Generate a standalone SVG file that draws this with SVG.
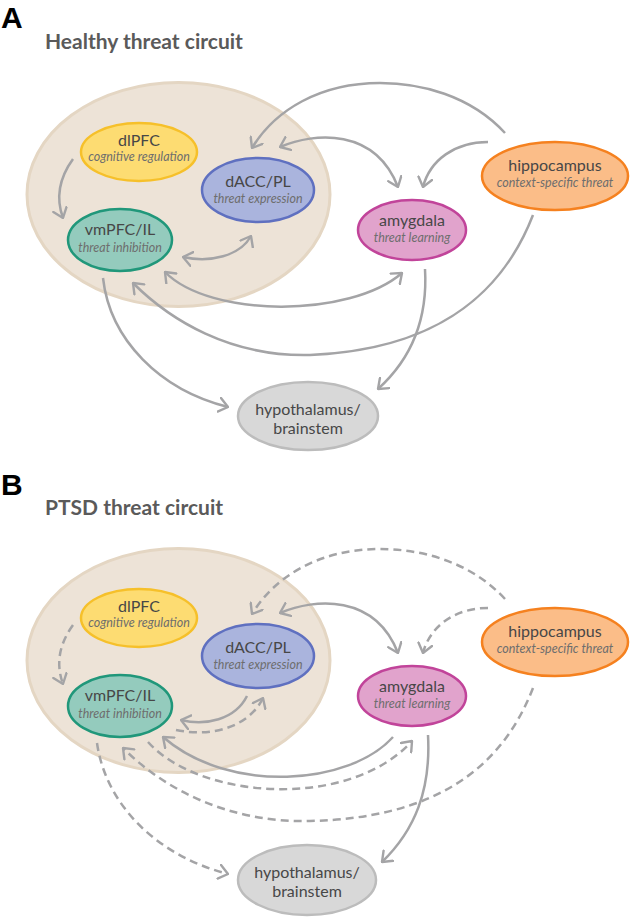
<svg xmlns="http://www.w3.org/2000/svg" width="630" height="919" viewBox="0 0 630 919">
<style>
.panel{font-family:"Liberation Sans",Arial,sans-serif;font-weight:bold;font-size:30px;fill:#000}
.title{font-family:Lato,"Open Sans",sans-serif;font-weight:bold;font-size:21px;fill:#5a5a5a}
.nm{font-family:Lato,"Open Sans",sans-serif;font-size:16px;fill:#474747;text-anchor:middle}
.sub{font-family:Lato,"Open Sans",sans-serif;font-style:italic;font-size:12.5px;fill:#6e6e6e;text-anchor:middle}
.region{fill:#ede3d7;stroke:#e4d6c3;stroke-width:3}
.dlpfc{fill:#fddc72;stroke:#f6c02a;stroke-width:2.5}
.dacc{fill:#aab4dd;stroke:#5f70c0;stroke-width:2.5}
.vmpfc{fill:#94cbbd;stroke:#20977a;stroke-width:2.5}
.amy{fill:#e1a3cc;stroke:#c1449a;stroke-width:2.5}
.hip{fill:#fbbd88;stroke:#f5811f;stroke-width:2.5}
.hyp{fill:#d8d8d8;stroke:#bcbcbc;stroke-width:2.5}
.c{fill:none;stroke:#a4a4a6;stroke-width:2.5;marker-end:url(#ah)}
.d{stroke-dasharray:8 5}
.both{marker-start:url(#ah)}
</style>
<defs>
<marker id="ah" viewBox="0 0 11 16" refX="10" refY="8" markerWidth="11" markerHeight="16" markerUnits="userSpaceOnUse" orient="auto-start-reverse">
<path d="M1,1 L10,8 L1,15" fill="none" stroke="#a4a4a6" stroke-width="2.4" stroke-linecap="round" stroke-linejoin="round"/>
</marker>
</defs>

<text class="panel" x="1" y="28">A</text>
<text class="title" x="45" y="49">Healthy threat circuit</text>
<text class="panel" x="1" y="495">B</text>
<text class="title" x="45" y="515">PTSD threat circuit</text>

<g id="pfc-region-a"><ellipse class="region" cx="178.5" cy="194.5" rx="151.5" ry="112"/></g>
<g id="pfc-region-b"><ellipse class="region" cx="178.5" cy="660.5" rx="151.5" ry="112"/></g>

<g id="connectors">
<!-- Panel A -->
<path class="c" d="M73,159 Q52,188 63,218"/>
<path class="c both" d="M183,257 C210,263 240,256 251,236"/>
<path class="c" d="M505,133 C470,95 420,83 380,83 C320,83 275,110 252,148"/>
<path class="c both" d="M280,147 C315,132 375,128 398,187"/>
<path class="c" d="M488,142 C455,142 430,160 423,187"/>
<path class="c both" d="M165,272 C210,318 350,318 402,273"/>
<path class="c" d="M533,215 C500,300 430,350 310,355 C230,357 170,320 133,283"/>
<path class="c" d="M103,278 C110,340 160,390 228,407"/>
<path class="c" d="M425,269 C428,320 410,360 378,389"/>
<!-- Panel B -->
<path class="c d" d="M73,625 Q52,654 63,684"/>
<path class="c d" d="M505,599 C470,561 420,549 380,549 C320,549 275,576 252,614"/>
<path class="c both" d="M280,613 C315,598 375,594 398,653"/>
<path class="c d" d="M488,608 C455,608 430,626 423,653"/>
<path class="c" d="M247,696 C235,720 205,726 181,720"/>
<path class="c d" d="M176,730 C215,738 250,725 263,698"/>
<path class="c" d="M393,737 C350,785 230,795 163,737"/>
<path class="c d" d="M148,742 C200,800 350,810 412,741"/>
<path class="c d" d="M533,688 C500,773 430,818 310,821 C230,823 165,790 123,748"/>
<path class="c d" d="M97,743 C106,806 158,856 228,874"/>
<path class="c" d="M428,735 C431,790 415,830 382,862"/>
</g>

<g id="dlpfc-a"><ellipse class="dlpfc" cx="139" cy="152" rx="58" ry="29"/><text class="nm" x="139" y="146">dlPFC</text><text class="sub" x="139" y="161">cognitive regulation</text></g>
<g id="dacc-a"><ellipse class="dacc" cx="258" cy="190" rx="56" ry="32"/><text class="nm" x="258" y="187">dACC/PL</text><text class="sub" x="258" y="203">threat expression</text></g>
<g id="vmpfc-a"><ellipse class="vmpfc" cx="120" cy="240" rx="52" ry="31"/><text class="nm" x="120" y="235">vmPFC/IL</text><text class="sub" x="120" y="252">threat inhibition</text></g>
<g id="amygdala-a"><ellipse class="amy" cx="412" cy="230" rx="54" ry="30"/><text class="nm" x="412" y="226">amygdala</text><text class="sub" x="412" y="242">threat learning</text></g>
<g id="hippocampus-a"><ellipse class="hip" cx="555" cy="176" rx="73" ry="34"/><text class="nm" x="555" y="171">hippocampus</text><text class="sub" x="555" y="187">context-specific threat</text></g>
<g id="hypothalamus-a"><ellipse class="hyp" cx="308" cy="416" rx="70" ry="34"/><text class="nm" x="308" y="415">hypothalamus/</text><text class="nm" x="308" y="434">brainstem</text></g>

<g id="dlpfc-b"><ellipse class="dlpfc" cx="139" cy="618" rx="58" ry="29"/><text class="nm" x="139" y="612">dlPFC</text><text class="sub" x="139" y="627">cognitive regulation</text></g>
<g id="dacc-b"><ellipse class="dacc" cx="258" cy="656" rx="56" ry="32"/><text class="nm" x="258" y="653">dACC/PL</text><text class="sub" x="258" y="669">threat expression</text></g>
<g id="vmpfc-b"><ellipse class="vmpfc" cx="120" cy="706" rx="52" ry="31"/><text class="nm" x="120" y="701">vmPFC/IL</text><text class="sub" x="120" y="718">threat inhibition</text></g>
<g id="amygdala-b"><ellipse class="amy" cx="412" cy="696" rx="54" ry="30"/><text class="nm" x="412" y="692">amygdala</text><text class="sub" x="412" y="708">threat learning</text></g>
<g id="hippocampus-b"><ellipse class="hip" cx="555" cy="642" rx="73" ry="34"/><text class="nm" x="555" y="637">hippocampus</text><text class="sub" x="555" y="653">context-specific threat</text></g>
<g id="hypothalamus-b"><ellipse class="hyp" cx="307" cy="880" rx="69" ry="35"/><text class="nm" x="307" y="878">hypothalamus/</text><text class="nm" x="307" y="897">brainstem</text></g>
</svg>
